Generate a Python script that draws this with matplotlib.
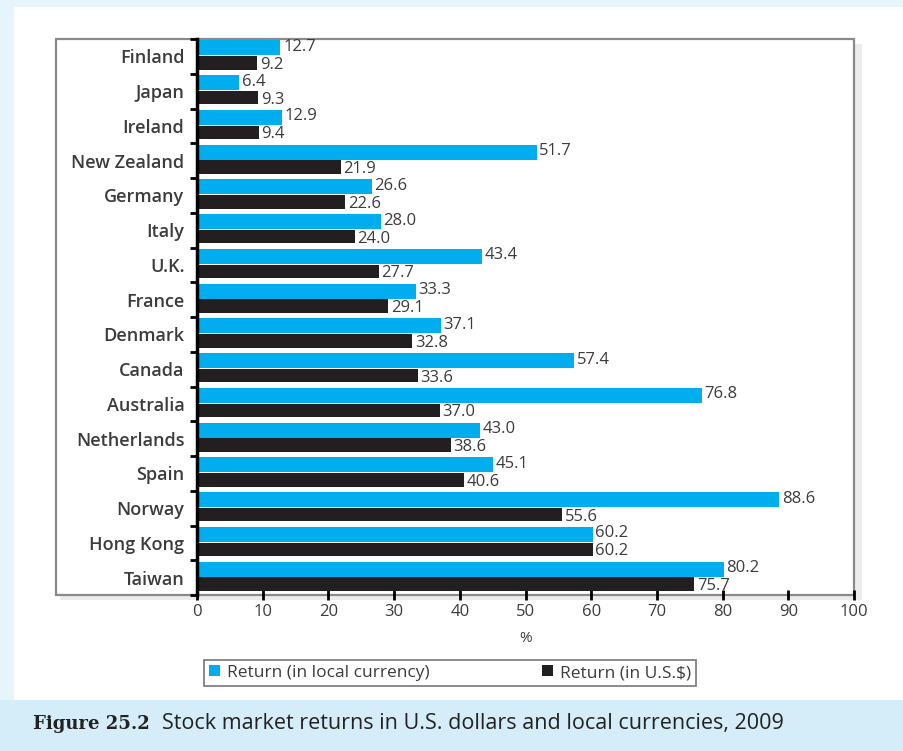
import numpy as np
import matplotlib
matplotlib.use('Agg')
import matplotlib.pyplot as plt
from matplotlib.patches import Rectangle

# data (top to bottom as in the chart)
countries = ['Finland', 'Japan', 'Ireland', 'New Zealand', 'Germany', 'Italy', 'U.K.',
             'France', 'Denmark', 'Canada', 'Australia', 'Netherlands', 'Spain',
             'Norway', 'Hong Kong', 'Taiwan']
local_ret = [12.7, 6.4, 12.9, 51.7, 26.6, 28.0, 43.4, 33.3, 37.1, 57.4, 76.8, 43.0,
             45.1, 88.6, 60.2, 80.2]
usd_ret = [9.2, 9.3, 9.4, 21.9, 22.6, 24.0, 27.7, 29.1, 32.8, 33.6, 37.0, 38.6,
           40.6, 55.6, 60.2, 75.7]
xticks = list(range(0, 101, 10))

BLUE = '#00aeef'
BLACK = '#231f20'
TXT = '#3c3c3c'
plt.rcParams['font.family'] = ['Open Sans', 'DejaVu Sans']

W, H = 904, 751
fig = plt.figure(figsize=(W / 100, H / 100), dpi=100, facecolor='white')

def px(x0, y0, x1, y1):
    return [x0 / W, 1 - y1 / H, (x1 - x0) / W, (y1 - y0) / H]

# light blue frame and caption band
fig.patches.append(Rectangle((0, 0), 14 / W, 1, transform=fig.transFigure,
                             facecolor='#e6f4fb', edgecolor='none', zorder=0))
fig.patches.append(Rectangle((0, 1 - 7 / H), 1, 7 / H, transform=fig.transFigure,
                             facecolor='#e6f4fb', edgecolor='none', zorder=0))
fig.patches.append(Rectangle((0, 0), 1, 51 / H, transform=fig.transFigure,
                             facecolor='#d4edf9', edgecolor='none', zorder=0))
# soft shadow + gray box around chart
fig.patches.append(Rectangle((60 / W, 1 - 600 / H), (858 - 56) / W, (595 - 39) / H,
                             transform=fig.transFigure, facecolor='#ececec',
                             edgecolor='none', zorder=0.5))
fig.patches.append(Rectangle((56 / W, 1 - 595 / H), (854 - 56) / W, (595 - 39) / H,
                             transform=fig.transFigure, facecolor='white',
                             edgecolor='#8a8a8a', linewidth=1.6, zorder=1))

ax = fig.add_axes(px(197, 39, 854, 595))
ax.set_facecolor('none')
ax.set_zorder(2)
n = len(countries)
ypos = np.arange(n)
bh = 0.43
yb = ypos - bh / 2 - 0.03
yk = ypos + bh / 2 - 0.03
ax.barh(yb, local_ret, height=bh, color=BLUE, zorder=2)
ax.barh(yk, usd_ret, height=bh - 0.04, color=BLACK, zorder=2)

for i in range(n):
    ax.text(local_ret[i] + 0.4, yb[i] - 0.03, f'{local_ret[i]:.1f}', va='center',
            ha='left', fontsize=12, color=TXT)
    ax.text(usd_ret[i] + 0.4, yk[i] + 0.06, f'{usd_ret[i]:.1f}', va='center',
            ha='left', fontsize=12, color=TXT)

ax.set_ylim(n - 0.5, -0.5)
ax.set_xlim(0, 100)
ax.set_yticks(ypos)
ax.set_yticklabels(countries, fontsize=13, color=TXT, fontweight='semibold')
ax.set_yticks(np.arange(n + 1) - 0.5, minor=True)
ax.tick_params(axis='y', which='major', length=0, pad=9)
ax.tick_params(axis='y', which='minor', length=5, width=2, color='black')
ax.set_xticks(xticks)
ax.set_xticklabels([str(v) for v in xticks], fontsize=12, color=TXT)
ax.tick_params(axis='x', length=7, width=2, direction='inout', color='black', pad=3)
ax.set_xlabel('%', fontsize=11, color=TXT, labelpad=8)
for s in ['top', 'right', 'bottom']:
    ax.spines[s].set_visible(False)
ax.spines['left'].set_linewidth(2.5)
ax.spines['left'].set_color('black')

# legend
h1 = Rectangle((0, 0), 1, 1, facecolor=BLUE)
h2 = Rectangle((0, 0), 1, 1, facecolor=BLACK)
leg = fig.legend([h1, h2], ['Return (in local currency)', 'Return (in U.S.$)'],
                 loc='center', bbox_to_anchor=((190 + 710) / 2 / W, 1 - 673 / H),
                 ncol=2, frameon=True, fancybox=False, fontsize=12.5,
                 handlelength=0.6, handleheight=0.6, handletextpad=0.4,
                 columnspacing=6.5, borderpad=0.3, labelcolor=TXT)
leg.get_frame().set_edgecolor('#555555')
leg.get_frame().set_linewidth(1.2)

# caption
fig.text(33 / W, 1 - 724 / H, 'Figure 25.2', fontsize=13, fontweight='bold',
         family='DejaVu Serif', color='#222222', va='center')
fig.text(162 / W, 1 - 724 / H,
         'Stock market returns in U.S. dollars and local currencies, 2009',
         fontsize=15.5, color='#222222', va='center')

fig.savefig('out.png', dpi=100, facecolor='white')
